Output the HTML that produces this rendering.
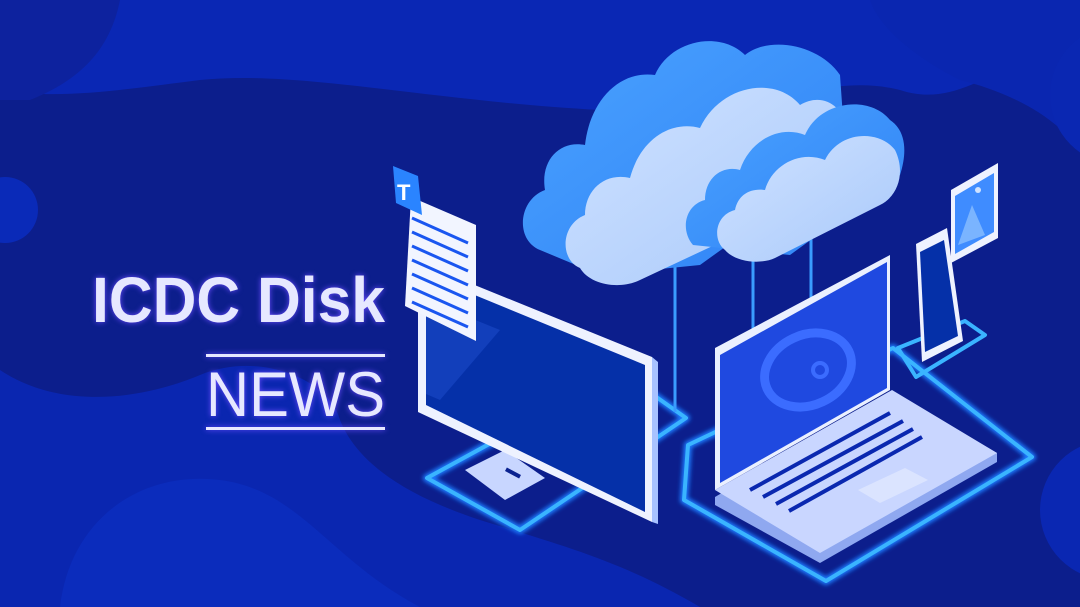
<!DOCTYPE html>
<html><head><meta charset="utf-8"><style>
html,body{margin:0;padding:0;width:1080px;height:607px;overflow:hidden;background:#0c1e8c}
svg{display:block}
</style></head><body>
<svg width="1080" height="607" viewBox="0 0 1080 607" xmlns="http://www.w3.org/2000/svg">
<defs>
<linearGradient id="cl" x1="0" y1="0" x2="1" y2="1"><stop offset="0" stop-color="#4aa2ff"/><stop offset="1" stop-color="#2f82f5"/></linearGradient>
<linearGradient id="cf" x1="0" y1="0" x2="1" y2="1"><stop offset="0" stop-color="#cfe2ff"/><stop offset="1" stop-color="#a9c9fb"/></linearGradient>
<filter id="gl"><feGaussianBlur stdDeviation="2"/></filter>
</defs>
<rect width="1080" height="607" fill="#0c1e8c"/>
<!-- background blobs -->
<path d="M0 0 H1080 V40 C1000 60 960 110 900 90 C820 70 760 120 600 110 C420 100 300 70 200 80 C120 90 60 100 0 90 Z" fill="#0a27b4"/>
<path d="M0 0 H120 C110 50 80 80 30 100 L0 100 Z" fill="#0d229e"/>
<path d="M0 370 C60 410 140 400 200 375 C260 350 330 380 340 420 C360 470 420 500 480 520 C560 545 620 560 700 607 H0 Z" fill="#0a26b0"/>
<path d="M60 607 C70 520 140 470 220 480 C300 490 330 560 420 607 Z" fill="#0b2cbc"/>
<circle cx="5" cy="210" r="33" fill="#0a2ab8"/>
<path d="M1080 0 V150 C1050 110 1000 90 960 80 C920 60 880 30 870 0 Z" fill="#0a26b0"/>
<circle cx="1120" cy="95" r="70" fill="#0a27b2"/>
<circle cx="1110" cy="510" r="70" fill="#0a27b2"/>

<!-- text -->
<g font-family="Liberation Sans, sans-serif" fill="#e6e8ff" style="filter:drop-shadow(0 0 3px #6a4cff)">
<text x="92" y="322" font-size="64" font-weight="bold" textLength="293" lengthAdjust="spacingAndGlyphs">ICDC Disk</text>
<rect x="206" y="354" width="179" height="3"/>
<text x="206" y="416" font-size="63" textLength="179" lengthAdjust="spacingAndGlyphs">NEWS</text>
<rect x="206" y="427" width="179" height="3"/>
</g>

<!-- platforms (glow loops) -->
<g fill="none" stroke="#3ab4ff" stroke-width="4" stroke-linejoin="round">
<path d="M427 478 L621 372 L686 418 L520 530 Z" filter="url(#gl)" stroke="#1e7cff" stroke-width="8"/>
<path d="M427 478 L621 372 L686 418 L520 530 Z"/>
<path d="M688 445 L893 348 L1032 457 L826 581 L684 500 Z" filter="url(#gl)" stroke="#1e7cff" stroke-width="8"/>
<path d="M688 445 L893 348 L1032 457 L826 581 L684 500 Z"/>
<path d="M898 348 L965 321 L985 335 L916 377 Z"/>
</g>
<!-- cloud cables -->
<g stroke="#3a9cff" stroke-width="3">
<line x1="675" y1="232" x2="675" y2="412"/>
<line x1="753" y1="250" x2="753" y2="465"/>
<line x1="811" y1="215" x2="811" y2="306"/>
</g>

<!-- clouds -->
<g>
<path d="M540 250 C515 240 518 200 545 190 C540 160 560 140 585 145 C590 100 620 70 655 75 C670 40 720 30 745 55 C770 35 820 45 840 75 L846 160 L700 265 L600 275 Z" fill="url(#cl)"/>
<path d="M580 268 C560 260 560 225 585 215 C585 190 605 172 630 178 C640 140 670 120 700 128 C720 85 775 75 800 105 C825 90 850 110 846 140 C846 170 830 190 800 205 L640 280 C620 290 590 285 580 268 Z" fill="url(#cf)"/>
<path d="M693 245 C680 230 685 205 705 200 C705 178 722 165 740 170 C750 140 780 125 805 135 C820 100 870 95 890 120 C905 130 908 150 900 175 L790 255 Z" fill="url(#cl)"/>
<path d="M725 250 C712 240 715 215 735 210 C738 195 750 188 765 190 C772 165 800 150 825 160 C840 130 880 130 895 150 C905 170 900 195 880 205 L775 258 C760 265 735 262 725 250 Z" fill="url(#cf)"/>
</g>

<!-- monitor -->
<polygon points="465,470 505,450 545,478 505,500" fill="#c8d6ff"/>
<polygon points="418,262 652,357 652,522 418,412" fill="#eef2ff"/>
<polygon points="652,357 658,362 658,524 652,522" fill="#a8c2ff"/>
<polygon points="426,275 645,365 645,512 426,405" fill="#0530a8"/>
<polygon points="426,300 500,330 440,400 426,394" fill="#1a49c8" opacity="0.6"/>
<rect x="505" y="471" width="16" height="4" fill="#0a2290" transform="rotate(28 513 473)"/>

<!-- document -->
<polygon points="411,197 476,225 476,341 405,306" fill="#f2f5ff"/>
<g stroke="#1a56f0" stroke-width="3">
<line x1="412" y1="218" x2="468" y2="243"/><line x1="412" y1="232" x2="468" y2="257"/>
<line x1="412" y1="246" x2="468" y2="271"/><line x1="412" y1="260" x2="468" y2="285"/>
<line x1="412" y1="274" x2="468" y2="299"/><line x1="412" y1="288" x2="468" y2="313"/>
<line x1="412" y1="302" x2="468" y2="327"/>
</g>
<polygon points="393,166 418,176 422,215 396,203" fill="#2a84ff"/>
<text x="397" y="200" font-family="Liberation Sans, sans-serif" font-weight="bold" font-size="22" fill="#fff">T</text>

<!-- laptop -->
<polygon points="715,497 892,392 997,453 997,462 820,563 715,505" fill="#8fa8f0"/>
<polygon points="715,490 892,390 997,453 820,553" fill="#c9d6ff"/>
<g stroke="#0a28b0" stroke-width="4">
<line x1="750" y1="490" x2="890" y2="413"/><line x1="763" y1="497" x2="903" y2="421"/>
<line x1="776" y1="504" x2="913" y2="429"/><line x1="789" y1="511" x2="922" y2="437"/>
</g>
<polygon points="858,490 905,468 928,480 880,503" fill="#dbe4ff"/>
<polygon points="715,348 890,255 890,390 715,490" fill="#eaf0ff"/>
<polygon points="720,355 887,262 887,388 720,483" fill="#1f49e0"/>
<ellipse cx="808" cy="370" rx="45" ry="35" fill="none" stroke="#3b6cff" stroke-width="9" transform="rotate(-25 808 370)"/>
<circle cx="820" cy="370" r="7" fill="none" stroke="#3b6cff" stroke-width="4"/>

<!-- phone -->
<polygon points="916,244 947,228 963,341 922,362" fill="#eef2ff"/>
<polygon points="920,252 944,240 958,336 925,352" fill="#0530a8"/>
<!-- photo -->
<polygon points="951,190 998,163 998,238 951,263" fill="#eef2ff"/>
<polygon points="955,196 994,173 994,232 955,254" fill="#3f8cff"/>
<polygon points="958,245 972,205 985,235" fill="#7ab4ff"/>
<circle cx="978" cy="190" r="3" fill="#cfe2ff"/>
</svg>
</body></html>
